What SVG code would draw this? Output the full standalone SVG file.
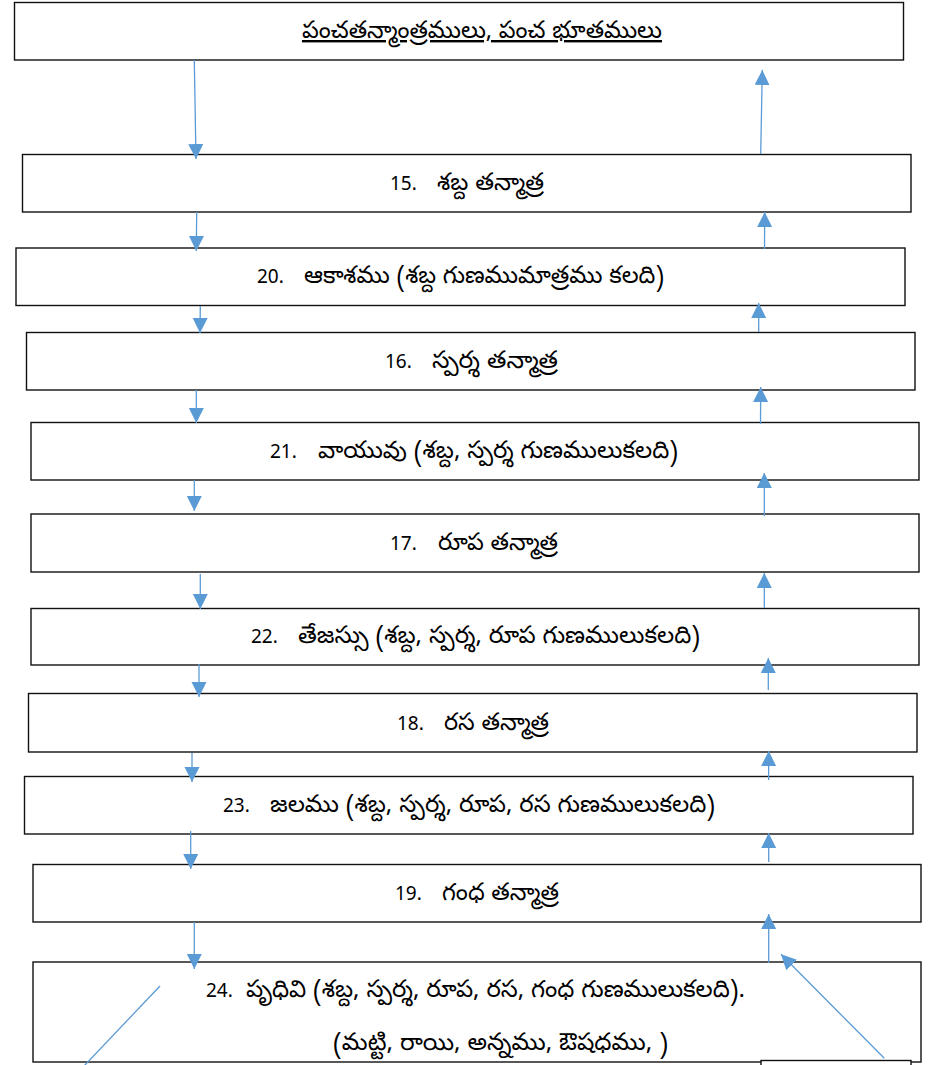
<svg xmlns="http://www.w3.org/2000/svg" width="931" height="1065" viewBox="0 0 931 1065">
<defs>
<style>
.box{fill:#fff;stroke:#111;stroke-width:1.4}
.t{font-family:"Noto Sans Telugu","Noto Sans","DejaVu Sans",sans-serif;font-size:24px;fill:#000}
.n{font-family:"Noto Sans","DejaVu Sans",sans-serif;font-size:19px;fill:#000}
.c{stroke:#5B9BD5;stroke-width:1.3;fill:none}
</style>
<marker id="ah" markerUnits="userSpaceOnUse" markerWidth="16" markerHeight="16" viewBox="0 0 16 16" refX="15" refY="7.5" orient="auto">
<path d="M0,0 L15,7.5 L0,15 Z" fill="#5B9BD5"/>
</marker>
</defs>
<rect width="931" height="1065" fill="#fff"/>
<g id="n0"><rect class="box" x="14.5" y="2.5" width="889" height="57.5"/>
<text class="t" x="302" y="38" textLength="360" lengthAdjust="spacingAndGlyphs" text-decoration="underline">పంచతన్మాంత్రములు, పంచ భూతములు</text></g>
<g id="n15"><rect class="box" x="22.5" y="154.5" width="888.5" height="57.5"/>
<text class="n" x="390" y="190">15.</text><text class="t" x="437" y="190" textLength="107" lengthAdjust="spacingAndGlyphs">శబ్ద తన్మాత్ర</text></g>
<g id="n20"><rect class="box" x="16" y="248" width="889" height="57.5"/>
<text class="n" x="257" y="283">20.</text><text class="t" x="304" y="283" textLength="360" lengthAdjust="spacingAndGlyphs">ఆకాశము (శబ్ద గుణముమాత్రము కలది)</text></g>
<g id="n16"><rect class="box" x="26.5" y="332.5" width="888.5" height="57.5"/>
<text class="n" x="385" y="368">16.</text><text class="t" x="432" y="368" textLength="126" lengthAdjust="spacingAndGlyphs">స్పర్శ తన్మాత్ర</text></g>
<g id="n21"><rect class="box" x="31" y="422.5" width="888" height="57.5"/>
<text class="n" x="270" y="458">21.</text><text class="t" x="318" y="458" textLength="360" lengthAdjust="spacingAndGlyphs">వాయువు (శబ్ద, స్పర్శ గుణములుకలది)</text></g>
<g id="n17"><rect class="box" x="31" y="514" width="888" height="58"/>
<text class="n" x="390" y="550">17.</text><text class="t" x="438" y="550" textLength="120" lengthAdjust="spacingAndGlyphs">రూప తన్మాత్ర</text></g>
<g id="n22"><rect class="box" x="31" y="608.5" width="888" height="56.5"/>
<text class="n" x="251" y="643">22.</text><text class="t" x="298" y="643" textLength="402" lengthAdjust="spacingAndGlyphs">తేజస్సు (శబ్ద, స్పర్శ, రూప గుణములుకలది)</text></g>
<g id="n18"><rect class="box" x="28.5" y="693.5" width="888.5" height="58.5"/>
<text class="n" x="397" y="730">18.</text><text class="t" x="444" y="730" textLength="105" lengthAdjust="spacingAndGlyphs">రస తన్మాత్ర</text></g>
<g id="n23"><rect class="box" x="24.5" y="776.5" width="888.5" height="57.5"/>
<text class="n" x="223" y="812">23.</text><text class="t" x="270" y="812" textLength="445" lengthAdjust="spacingAndGlyphs">జలము (శబ్ద, స్పర్శ, రూప, రస గుణములుకలది)</text></g>
<g id="n19"><rect class="box" x="33" y="864.5" width="888" height="57.5"/>
<text class="n" x="395" y="900">19.</text><text class="t" x="442" y="900" textLength="117" lengthAdjust="spacingAndGlyphs">గంధ తన్మాత్ర</text></g>
<g id="n24"><rect class="box" x="33" y="962" width="888" height="100"/>
<text class="n" x="206" y="997">24.</text><text class="t" x="246" y="997" textLength="499" lengthAdjust="spacingAndGlyphs">పృధివి (శబ్ద, స్పర్శ, రూప, రస, గంధ గుణములుకలది).</text>
<text class="t" x="333" y="1050" textLength="335" lengthAdjust="spacingAndGlyphs">(మట్టి, రాయి, అన్నము, ఔషధము, )</text></g>
<g id="n25"><rect class="box" x="761" y="1060.5" width="150" height="20"/></g>
<g id="connectors">
<line class="c" x1="194.3" y1="60" x2="196" y2="159" marker-end="url(#ah)"/>
<line class="c" x1="196.7" y1="212" x2="196.3" y2="251" marker-end="url(#ah)"/>
<line class="c" x1="200.3" y1="306" x2="200" y2="333" marker-end="url(#ah)"/>
<line class="c" x1="196.3" y1="390" x2="196.3" y2="423" marker-end="url(#ah)"/>
<line class="c" x1="194.3" y1="480" x2="194.3" y2="511" marker-end="url(#ah)"/>
<line class="c" x1="200.3" y1="574" x2="200.3" y2="609" marker-end="url(#ah)"/>
<line class="c" x1="199" y1="664" x2="199" y2="697" marker-end="url(#ah)"/>
<line class="c" x1="192" y1="753" x2="192" y2="782" marker-end="url(#ah)"/>
<line class="c" x1="190.7" y1="831" x2="190.7" y2="869" marker-end="url(#ah)"/>
<line class="c" x1="194.3" y1="922" x2="194.3" y2="969" marker-end="url(#ah)"/>
<line class="c" x1="760.7" y1="154" x2="762.3" y2="70" marker-end="url(#ah)"/>
<line class="c" x1="764.5" y1="249" x2="764.7" y2="212" marker-end="url(#ah)"/>
<line class="c" x1="758.7" y1="332" x2="758.7" y2="303" marker-end="url(#ah)"/>
<line class="c" x1="760.5" y1="424" x2="760.7" y2="387" marker-end="url(#ah)"/>
<line class="c" x1="764.3" y1="516" x2="764.3" y2="473" marker-end="url(#ah)"/>
<line class="c" x1="764.3" y1="608" x2="764.3" y2="573" marker-end="url(#ah)"/>
<line class="c" x1="768.3" y1="690" x2="768.3" y2="658" marker-end="url(#ah)"/>
<line class="c" x1="768.6" y1="780" x2="768.7" y2="751" marker-end="url(#ah)"/>
<line class="c" x1="768.7" y1="862" x2="768.7" y2="833" marker-end="url(#ah)"/>
<line class="c" x1="768.7" y1="963" x2="768.7" y2="914" marker-end="url(#ah)"/>
<line class="c" x1="884.3" y1="1058.3" x2="781" y2="954.3" marker-end="url(#ah)"/>
<line class="c" x1="160" y1="986" x2="84" y2="1066"/>
</g>
</svg>
